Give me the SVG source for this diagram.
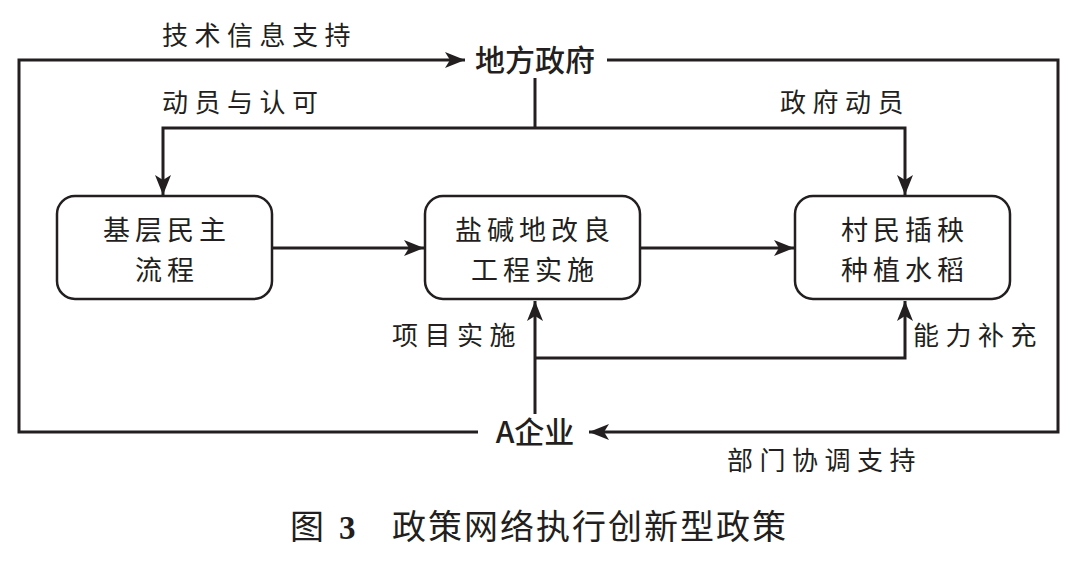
<svg xmlns="http://www.w3.org/2000/svg" width="1080" height="562" viewBox="0 0 1080 562">
<style>
.ln{fill:none;stroke:#231f20;stroke-width:3}
.box{fill:#fff;stroke:#231f20;stroke-width:2.5}
.lbl{font-family:"Noto Sans CJK SC","Noto Sans",sans-serif;font-size:26px;fill:#231f20;letter-spacing:6.5px}
.bt{font-family:"Noto Sans CJK SC","Noto Sans",sans-serif;font-size:27px;fill:#231f20;letter-spacing:5px;text-anchor:middle}
.key{font-family:"Noto Sans CJK SC","Noto Sans",sans-serif;font-size:30px;font-weight:500;fill:#231f20;text-anchor:middle}
.cap{font-family:"Noto Sans CJK SC",sans-serif;font-size:34px;fill:#231f20}
</style>
<defs>
<marker id="ah" markerUnits="userSpaceOnUse" markerWidth="22" markerHeight="16" refX="20" refY="8" orient="auto">
<path d="M0,0 L20,8 L0,16 L5,8 Z" fill="#231f20"/>
</marker>
</defs>
<rect width="1080" height="562" fill="#fff"/>
<g id="connectors">
<path class="ln" d="M478,432 H19 V60 H465" marker-end="url(#ah)"/>
<path class="ln" d="M607,60 H1058 V432 H589" marker-end="url(#ah)"/>
<path class="ln" d="M535,78 V128"/>
<path class="ln" d="M535,128 H163 V195" marker-end="url(#ah)"/>
<path class="ln" d="M535,128 H905 V195" marker-end="url(#ah)"/>
<path class="ln" d="M272,248 H424" marker-end="url(#ah)"/>
<path class="ln" d="M640,248 H794" marker-end="url(#ah)"/>
<path class="ln" d="M535,414 V301" marker-end="url(#ah)"/>
<path class="ln" d="M535,358 H905 V301" marker-end="url(#ah)"/>
</g>
<g id="labels">
<text class="lbl" x="162" y="45">技术信息支持</text>
<text class="lbl" x="162" y="112">动员与认可</text>
<text class="lbl" x="780" y="112">政府动员</text>
<text class="lbl" x="392" y="345">项目实施</text>
<text class="lbl" x="913" y="345">能力补充</text>
<text class="lbl" x="727" y="470">部门协调支持</text>
</g>
<g id="n-gov"><text class="key" x="535" y="71">地方政府</text></g>
<g id="n-ent"><text class="key" x="535" y="443">A企业</text></g>
<g id="n-demo">
<rect class="box" x="57" y="196" width="215" height="103" rx="18"/>
<text class="bt" x="167" y="240">基层民主</text>
<text class="bt" x="167" y="280">流程</text>
</g>
<g id="n-proj">
<rect class="box" x="425" y="196" width="215" height="103" rx="18"/>
<text class="bt" x="535" y="240">盐碱地改良</text>
<text class="bt" x="535" y="280">工程实施</text>
</g>
<g id="n-vill">
<rect class="box" x="795" y="196" width="215" height="103" rx="18"/>
<text class="bt" x="905" y="240">村民插秧</text>
<text class="bt" x="905" y="280">种植水稻</text>
</g>
<g id="caption">
<text class="cap" x="290" y="539">图</text>
<text x="339" y="539" font-family="Liberation Serif,serif" font-weight="bold" font-size="33" fill="#231f20">3</text>
<text class="cap" x="392" y="539" letter-spacing="2">政策网络执行创新型政策</text>
</g>
</svg>
